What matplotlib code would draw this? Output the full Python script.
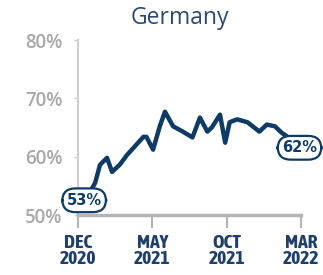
import matplotlib
matplotlib.use("Agg")
import matplotlib.pyplot as plt
from matplotlib import font_manager

# months since Dec 2020
months = [0.6, 1.15, 1.48, 1.95, 2.29, 2.8, 3.3, 3.8, 4.4, 4.6, 5.05, 5.5, 5.85,
          6.4, 7.05, 7.7, 8.2, 8.7, 9.0, 9.55, 9.9, 10.2, 10.7, 11.4, 12.2,
          12.7, 13.25, 13.7, 14.9]
share = [53, 55.5, 58.6, 59.8, 57.4, 58.6, 60.3, 61.7, 63.4, 63.4, 61.2, 65.2, 67.7,
         65.2, 64.3, 63.3, 66.7, 64.3, 65.0, 67.2, 62.4, 65.9, 66.4, 65.9, 64.3,
         65.5, 65.2, 64.1, 62]
xtick_pos = [0, 5, 10, 15]
xtick_labels = ["DEC\n2020", "MAY\n2021", "OCT\n2021", "MAR\n2022"]
ytick_vals = [50, 60, 70, 80]
ytick_labels = ["50%", "60%", "70%", "80%"]
title = "Germany"

navy = "#0d3b66"
label_blue = "#1f3f6a"
grey = "#a8a8a8"

# find a condensed/narrow bold font if available
narrow = None
for f in font_manager.fontManager.ttflist:
    n = f.name
    if ("Narrow" in n or "Condensed" in n) and f.weight in ("bold", 700):
        narrow = n
        break
if narrow is None:
    for f in font_manager.fontManager.ttflist:
        if "Narrow" in f.name or "Condensed" in f.name:
            narrow = f.name
            break
xfam = [narrow, "DejaVu Sans"] if narrow else ["DejaVu Sans"]

fig = plt.figure(figsize=(3.23, 2.75), dpi=100)
ax = fig.add_axes([78/323, 1-215/275, (301-78)/323, (215-40)/275])
ax.plot(months, share, color=navy, lw=3.2, solid_joinstyle="round", zorder=3)
ax.set_xlim(0, 15)
ax.set_ylim(50, 80)

for s in ["top", "right"]:
    ax.spines[s].set_visible(False)
ax.spines["left"].set_color("#cfcfcf")
ax.spines["left"].set_linewidth(1.5)
ax.spines["bottom"].set_color("#b5b5b5")
ax.spines["bottom"].set_linewidth(2.5)

ax.set_yticks(ytick_vals)
ax.set_yticklabels(ytick_labels, fontsize=13.5, fontweight="semibold", color=grey,
                   family="Open Sans")
ax.tick_params(axis="y", length=3, width=1, color="#cfcfcf", pad=8)
ax.set_xticks(xtick_pos)
ax.set_xticklabels(xtick_labels, fontsize=14, fontweight="bold", color=label_blue,
                   family=xfam, linespacing=0.85)
ax.tick_params(axis="x", length=9, width=1.5, color="#b5b5b5", pad=5)

fig.text(0.557, 0.935, title, ha="center", va="center", fontsize=16.5,
         color="#2a4a6e", family="Open Sans")

box = dict(boxstyle="round,pad=0.3,rounding_size=0.9", fc="white", ec=navy, lw=1.6)
ax.annotate(f"{share[0]:.0f}%", (months[0], share[0]), xytext=(-2, -2),
            textcoords="offset points", ha="center", va="center", fontsize=10.5,
            fontweight="bold", color=navy, bbox=box, zorder=5, annotation_clip=False)
ax.annotate(f"{share[-1]:.0f}%", (months[-1], share[-1]), xytext=(0, -2),
            textcoords="offset points", ha="center", va="center", fontsize=10.5,
            fontweight="bold", color=navy, bbox=box, zorder=5, annotation_clip=False)

fig.savefig("out.png", dpi=100)
